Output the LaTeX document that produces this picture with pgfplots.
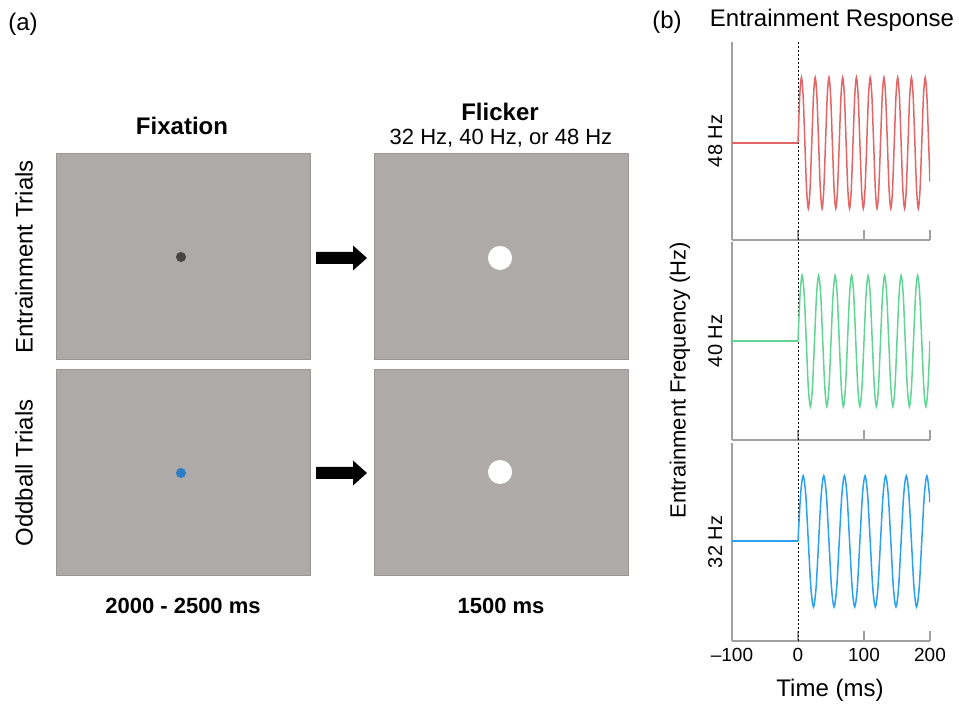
\documentclass[border=0pt]{standalone}
\usepackage{fontspec}
\setmainfont{Liberation Sans}
\usepackage{pgfplots}
\pgfplotsset{compat=1.18}

\definecolor{screen}{RGB}{174,170,169}
\definecolor{screenedge}{RGB}{152,149,148}
\definecolor{fixdot}{RGB}{70,68,68}
\definecolor{oddblue}{RGB}{46,125,198}
\definecolor{w48}{RGB}{226,102,102}
\definecolor{w40}{RGB}{98,212,150}
\definecolor{w32}{RGB}{42,162,240}
\definecolor{axgray}{RGB}{160,160,160}

\newcommand\fs[1]{\fontsize{#1}{#1}\selectfont}

\pgfplotsset{
  screenax/.style={width=127pt, height=103pt, scale only axis,
    xmin=0, xmax=254, ymin=0, ymax=206, hide axis, clip=false, anchor=south west},
  waveax/.style={width=99pt, height=99pt, scale only axis, anchor=south west,
    xmin=-100, xmax=200,
    axis x line*=bottom, axis y line*=left,
    axis line style={axgray, line width=0.6pt},
    xtick={-100,0,100,200}, xticklabels={}, ytick=\empty,
    tick align=inside, major tick length=5pt,
    tick style={axgray, line width=0.6pt},
    ylabel style={at={(axis description cs:-0.05,0.5)}, anchor=base, inner sep=0pt,
      font=\fs{10}},
    xticklabel style={font=\fs{9.5}, text=black},
  },
  flat/.style={line width=0.85pt},
  wave/.style={line width=0.75pt, smooth},
  zero/.style={black, line width=0.4pt, dash pattern=on 1pt off 1pt},
}

% screens
\newcommand\screen{\addplot[fill=screen, draw=screenedge, line width=0.5pt]
  coordinates {(0,0) (254,0) (254,206) (0,206)} -- cycle;}

\begin{document}
\begin{tikzpicture}
\useasboundingbox (0,0) rectangle (479.5pt,355pt);

% ---------- panel (a) ----------
\begin{axis}[screenax, at={(28pt,175pt)}]
\screen
\addplot[only marks, mark=*, mark size=2.3pt, color=fixdot] coordinates {(125,103)};
\end{axis}

\begin{axis}[screenax, at={(187pt,175pt)}]
\screen
\addplot[only marks, mark=*, mark size=5.8pt, color=white] coordinates {(126,102)};
\end{axis}

\begin{axis}[screenax, at={(28pt,67pt)}]
\screen
\addplot[only marks, mark=*, mark size=2.3pt, color=oddblue] coordinates {(125,103)};
\end{axis}

\begin{axis}[screenax, at={(187pt,67pt)}]
\screen
\addplot[only marks, mark=*, mark size=5.8pt, color=white] coordinates {(126,104)};
\end{axis}

\fill[black] (158pt,223pt) -- (176.5pt,223pt) -- (176.5pt,219.75pt) -- (183.5pt,226pt)
  -- (176.5pt,232.25pt) -- (176.5pt,229pt) -- (158pt,229pt) -- cycle;
\fill[black] (158pt,115.5pt) -- (176.5pt,115.5pt) -- (176.5pt,112.25pt) -- (183.5pt,118.5pt)
  -- (176.5pt,124.75pt) -- (176.5pt,121.5pt) -- (158pt,121.5pt) -- cycle;

\node[font=\fs{12}] at (11.5pt,343pt) {(a)};
\node[font=\bfseries\fs{12}] at (91pt,292pt) {Fixation};
\node[font=\bfseries\fs{12}] at (250pt,299pt) {Flicker};
\node[font=\fs{11}] at (250.5pt,286pt) {32 Hz, 40 Hz, or 48 Hz};
\node[font=\fs{12}, rotate=90] at (12pt,226.5pt) {Entrainment Trials};
\node[font=\fs{12}, rotate=90] at (12pt,118.5pt) {Oddball Trials};
\node[font=\bfseries\fs{11}] at (91.5pt,52pt) {2000 - 2500 ms};
\node[font=\bfseries\fs{11}] at (250.5pt,52pt) {1500 ms};

% ---------- panel (b) ----------
\begin{axis}[waveax, at={(366pt,235pt)}, ymin=-1.48, ymax=1.54, ylabel={48 Hz}]
\addplot[zero] coordinates {(0,-1.48) (0,1.54)};
\addplot[flat, w48] coordinates {(-100,0) (0,0)};
\addplot[wave, w48] coordinates {
(0,0) (2.60,.71) (5.21,1) (7.81,.71) (10.42,0) (13.02,-.71) (15.63,-1) (18.23,-.71)
(20.83,0) (23.44,.71) (26.04,1) (28.65,.71) (31.25,0) (33.85,-.71) (36.46,-1) (39.06,-.71)
(41.67,0) (44.27,.71) (46.88,1) (49.48,.71) (52.08,0) (54.69,-.71) (57.29,-1) (59.90,-.71)
(62.50,0) (65.10,.71) (67.71,1) (70.31,.71) (72.92,0) (75.52,-.71) (78.13,-1) (80.73,-.71)
(83.33,0) (85.94,.71) (88.54,1) (91.15,.71) (93.75,0) (96.35,-.71) (98.96,-1) (101.56,-.71)
(104.17,0) (106.77,.71) (109.38,1) (111.98,.71) (114.58,0) (117.19,-.71) (119.79,-1) (122.40,-.71)
(125.00,0) (127.60,.71) (130.21,1) (132.81,.71) (135.42,0) (138.02,-.71) (140.63,-1) (143.23,-.71)
(145.83,0) (148.44,.71) (151.04,1) (153.65,.71) (156.25,0) (158.85,-.71) (161.46,-1) (164.06,-.71)
(166.67,0) (169.27,.71) (171.88,1) (174.48,.71) (177.08,0) (179.69,-.71) (182.29,-1) (184.90,-.71)
(187.50,0) (190.10,.71) (192.71,1) (195.31,.71) (197.92,0) (200,-.59)
};
\end{axis}

\begin{axis}[waveax, at={(366pt,135pt)}, ymin=-1.51, ymax=1.51, ylabel={40 Hz}]
\addplot[zero] coordinates {(0,-1.51) (0,1.51)};
\addplot[flat, w40] coordinates {(-100,0) (0,0)};
\addplot[wave, w40] coordinates {
(0,0) (3.13,.71) (6.25,1) (9.38,.71) (12.5,0) (15.63,-.71) (18.75,-1) (21.88,-.71)
(25,0) (28.13,.71) (31.25,1) (34.38,.71) (37.5,0) (40.63,-.71) (43.75,-1) (46.88,-.71)
(50,0) (53.13,.71) (56.25,1) (59.38,.71) (62.5,0) (65.63,-.71) (68.75,-1) (71.88,-.71)
(75,0) (78.13,.71) (81.25,1) (84.38,.71) (87.5,0) (90.63,-.71) (93.75,-1) (96.88,-.71)
(100,0) (103.13,.71) (106.25,1) (109.38,.71) (112.5,0) (115.63,-.71) (118.75,-1) (121.88,-.71)
(125,0) (128.13,.71) (131.25,1) (134.38,.71) (137.5,0) (140.63,-.71) (143.75,-1) (146.88,-.71)
(150,0) (153.13,.71) (156.25,1) (159.38,.71) (162.5,0) (165.63,-.71) (168.75,-1) (171.88,-.71)
(175,0) (178.13,.71) (181.25,1) (184.38,.71) (187.5,0) (190.63,-.71) (193.75,-1) (196.88,-.71)
(200,0)
};
\end{axis}

\begin{axis}[waveax, at={(366pt,34.5pt)}, ymin=-1.52, ymax=1.5, ylabel={32 Hz},
  xticklabels={\textendash100,0,100,200}]
\addplot[zero] coordinates {(0,-1.52) (0,1.5)};
\addplot[flat, w32] coordinates {(-100,0) (0,0)};
\addplot[wave, w32] coordinates {
(0,0) (3.91,.71) (7.81,1) (11.72,.71) (15.63,0) (19.53,-.71) (23.44,-1) (27.34,-.71)
(31.25,0) (35.16,.71) (39.06,1) (42.97,.71) (46.88,0) (50.78,-.71) (54.69,-1) (58.59,-.71)
(62.5,0) (66.41,.71) (70.31,1) (74.22,.71) (78.13,0) (82.03,-.71) (85.94,-1) (89.84,-.71)
(93.75,0) (97.66,.71) (101.56,1) (105.47,.71) (109.38,0) (113.28,-.71) (117.19,-1) (121.09,-.71)
(125,0) (128.91,.71) (132.81,1) (136.72,.71) (140.63,0) (144.53,-.71) (148.44,-1) (152.34,-.71)
(156.25,0) (160.16,.71) (164.06,1) (167.97,.71) (171.88,0) (175.78,-.71) (179.69,-1) (183.59,-.71)
(187.5,0) (191.41,.71) (195.31,1) (199.22,.71) (200,.59)
};
\end{axis}

\node[font=\fs{12}] at (333.5pt,344pt) {(b)};
\node[font=\fs{12}] at (416pt,345pt) {Entrainment Response};
\node[font=\fs{11}, rotate=90] at (340pt,165pt) {Entrainment Frequency (Hz)};
\node[font=\fs{12}] at (415pt,10pt) {Time (ms)};
\end{tikzpicture}
\end{document}
